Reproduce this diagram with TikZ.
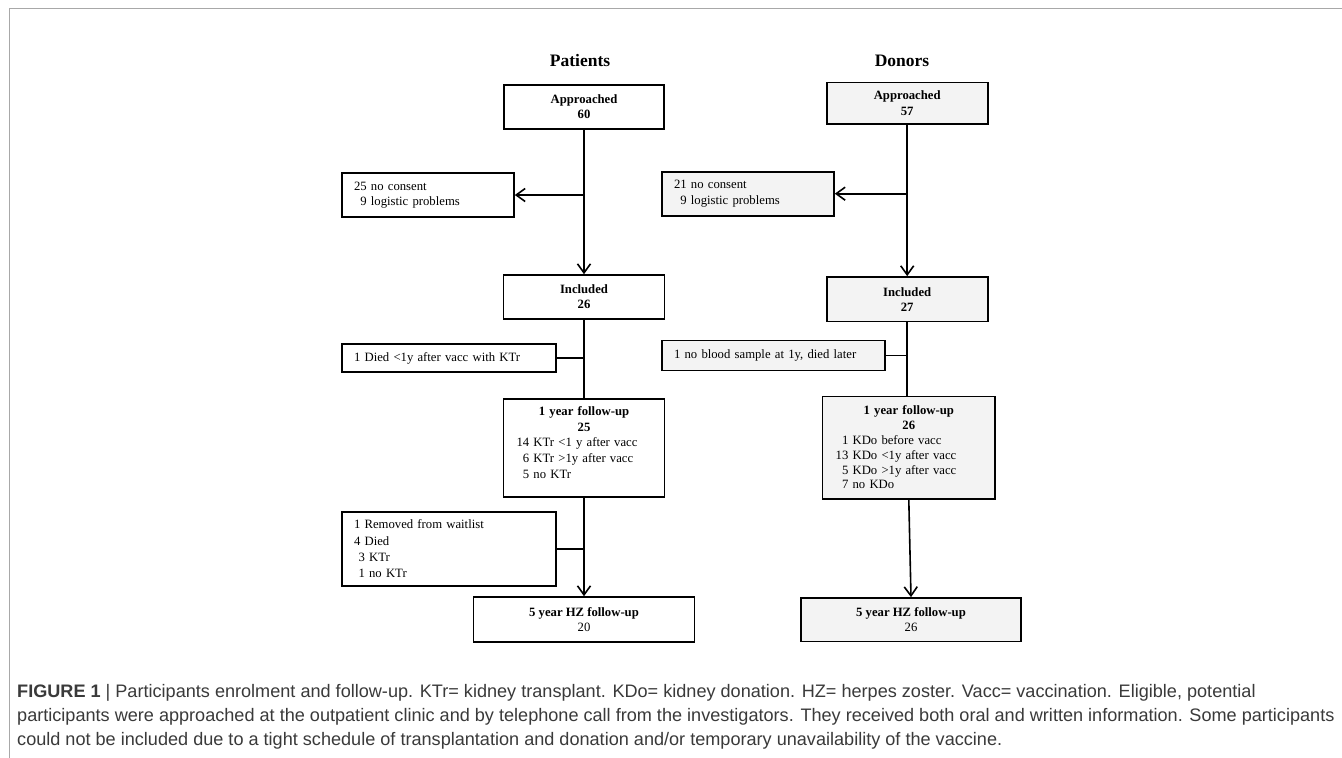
\documentclass[tikz,border=0pt]{standalone}
\usepackage{fontspec}
\setmainfont{Liberation Serif}
\newfontfamily\capfont{Liberation Sans}
\usetikzlibrary{arrows.meta}
\definecolor{donorfill}{HTML}{F3F3F3}
\definecolor{captext}{HTML}{3A3A3A}
\definecolor{framegray}{HTML}{A8A8A8}
\begin{document}
\begin{tikzpicture}[x=1pt,y=-1pt,
  box/.style={draw=black, line width=1.6pt, rectangle, inner sep=0pt, font=\fontsize{12.7}{15.3}\selectfont, align=center},
  dbox/.style={box, fill=donorfill},
  exbox/.style={box, align=left, text width=#1, inner xsep=12pt},
  dexbox/.style={exbox=#1, fill=donorfill},
  innertext/.style={inner sep=0pt, align=left, anchor=north},
  coltitle/.style={font=\fontsize{17.5}{20}\selectfont\bfseries, inner sep=0pt},
  conn/.style={line width=1.6pt},
  arr/.style={conn, -{Straight Barb[length=9pt,width=13pt]}},
  capline/.style={font=\capfont\fontsize{18.1}{24}\selectfont, text=captext, anchor=base west, inner sep=0pt}
]
\useasboundingbox (0,0) rectangle (1342,758);
\fill[white] (0,0) rectangle (1342,758);
\draw[framegray, line width=1.5pt] (9.5,758) -- (9.5,8.5) -- (1342,8.5);

% titles
\node[coltitle] (tp) at (580,61) {Patients};
\node[coltitle] (td) at (902,61) {Donors};

% patients
\node[box, minimum width=160, minimum height=44] (pA) at (584,107) {\textbf{Approached}\\\textbf{60}};
\node[exbox=148, minimum height=44] (pX1) at (428,195) {25 no consent\\\hphantom{2}9 logistic problems};
\node[box, minimum width=161, minimum height=44] (pI) at (584,297) {\textbf{Included}\\\textbf{26}};
\node[exbox=190, minimum height=28] (pX2) at (449,358) {1 Died <1y after vacc with KTr};
\node[box, minimum width=161, minimum height=98] (p1) at (584,448) {};
\node[innertext, text width=135, font=\fontsize{12.7}{15.7}\selectfont] (p1t) at ([yshift=-8pt]p1.north)
  {{\centering\textbf{1 year follow-up}\\\textbf{25}\par}14 KTr <1 y after vacc\\\hphantom{1}6 KTr >1y after vacc\\\hphantom{1}5 no KTr};
\node[exbox=190, minimum height=74, font=\fontsize{12.7}{16.3}\selectfont] (pX3) at (449,549)
  {1 Removed from waitlist\\4 Died\\\hspace*{4.5pt}3 KTr\\\hspace*{4.5pt}1 no KTr};
\node[box, minimum width=221, minimum height=45] (p5) at (584,619.5) {\textbf{5 year HZ follow-up}\\20};

\draw[arr] (pA.south) -- (pI.north);
\draw[arr] (pA.south |- pX1.east) -- (pX1.east);
\draw[conn] (pI.south) -- (p1.north);
\draw[conn] (pI.south |- pX2.east) -- (pX2.east);
\draw[arr] (p1.south) -- (p5.north);
\draw[conn] (p1.south |- pX3.east) -- (pX3.east);

% donors
\node[dbox, minimum width=161, minimum height=41.5] (dA) at (907.2,103.3) {\raisebox{-2pt}{\textbf{Approached}}\\\raisebox{-2pt}{\textbf{57}}};
\node[dexbox=148, minimum height=44] (dX1) at (748,193.7) {21 no consent\\\hphantom{2}9 logistic problems};
\node[dbox, minimum width=161, minimum height=44.7] (dI) at (907.2,299.3) {\textbf{Included}\\\textbf{27}};
\node[dexbox=199, minimum height=30] (dX2) at (773.5,355.5) {1 no blood sample at 1y, died later};
\node[dbox, minimum width=172.3, minimum height=102.3] (d1) at (908.8,447.8) {};
\node[innertext, text width=146.3, font=\fontsize{12.7}{14.8}\selectfont] (d1t) at ([yshift=-10pt]d1.north)
  {{\centering\textbf{1 year follow-up}\\\textbf{26}\par}\hphantom{1}1 KDo before vacc\\13 KDo <1y after vacc\\\hphantom{1}5 KDo >1y after vacc\\\hphantom{1}7 no KDo};
\node[dbox, minimum width=220, minimum height=43.7] (d5) at (911,619.8) {\textbf{5 year HZ follow-up}\\26};

\draw[arr] (dA.south) -- (dI.north);
\draw[arr] (dA.south |- dX1.east) -- (dX1.east);
\draw[conn] (dI.south) -- (dI.south |- d1.north);
\draw[conn] (dI.south |- dX2.east) -- (dX2.east);
\draw[arr] (d1.south) -- (d5.north);

% caption
\node[capline] (c1) at (17,697) {\textbf{FIGURE 1} | Participants enrolment and follow-up. KTr= kidney transplant. KDo= kidney donation. HZ= herpes zoster. Vacc= vaccination. Eligible, potential};
\node[capline] (c2) at (17,721) {participants were approached at the outpatient clinic and by telephone call from the investigators. They received both oral and written information. Some participants};
\node[capline] (c3) at (17,745) {could not be included due to a tight schedule of transplantation and donation and/or temporary unavailability of the vaccine.};
\end{tikzpicture}
\end{document}
